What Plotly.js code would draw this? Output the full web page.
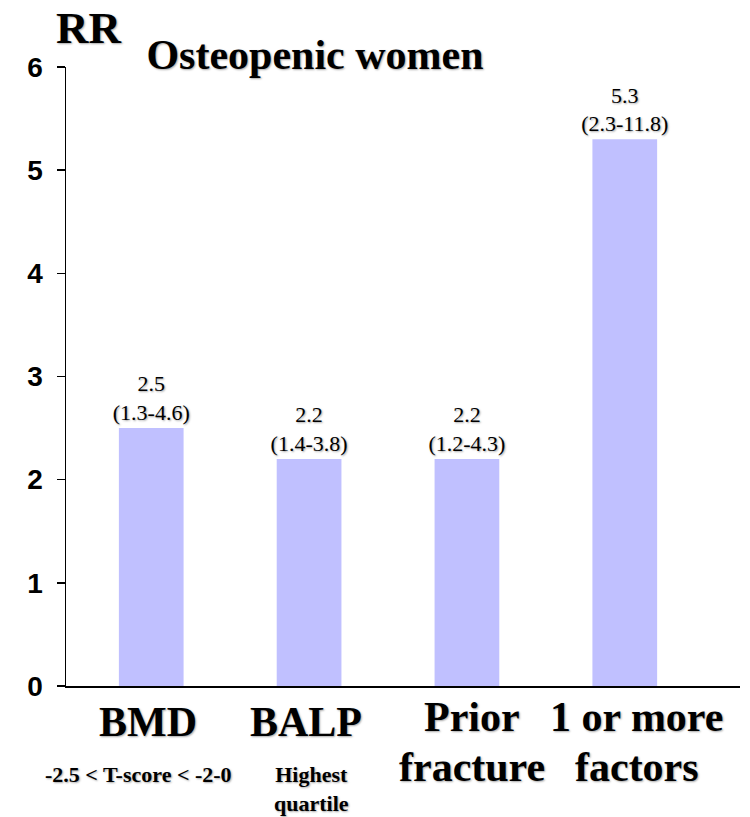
<!DOCTYPE html>
<html>
<head>
<meta charset="utf-8">
<script src="https://cdn.plot.ly/plotly-3.0.1.min.js"></script>
<style>html,body{margin:0;padding:0;background:#fff;}#chart{width:750px;height:817px;}</style>
</head>
<body>
<div id="chart"></div>
<script>
const categories = ["BMD", "BALP", "Prior<br>fracture", "1 or more<br>factors"];
const subLabels = ["-2.5 < T-score < -2-0", "Highest<br>quartile", "", ""];
const rrValues = [2.5, 2.2, 2.2, 5.3];
const ciLabels = ["(1.3-4.6)", "(1.4-3.8)", "(1.2-4.3)", "(2.3-11.8)"];
const yTicks = [0, 1, 2, 3, 4, 5, 6];

const xIdx = categories.map((_, i) => i);
const shadow = "1px 1px 2px rgba(0,0,0,0.35)";
const serif = "'Times New Roman', 'Liberation Serif', 'DejaVu Serif', serif";
const labelXShift = [-3, -3, 5, 12];

const trace = {
  type: "bar",
  x: xIdx,
  y: rrValues,
  width: 0.41,
  marker: {color: "rgb(192,192,255)", line: {width: 0}},
  text: rrValues.map((v, i) => v.toFixed(1) + "<br>" + ciLabels[i]),
  texttemplate: "%{text}",
  textposition: "outside",
  constraintext: "none",
  cliponaxis: false,
  textfont: {family: serif, size: 22, color: "#000", shadow: shadow},
  hoverinfo: "skip"
};

const annotations = [];
categories.forEach((c, i) => {
  const lines = c.split("<br>");
  lines.forEach((ln, k) => {
    annotations.push({
      xref: "x", yref: "paper", x: i, y: 0,
      text: "<b>" + ln + "</b>", showarrow: false,
      xanchor: "center", yanchor: "middle",
      xshift: labelXShift[i],
      yshift: lines.length > 1 ? -31 - 50 * k : -36,
      font: {family: serif, size: 42, color: "#000", shadow: shadow}
    });
  });
  if (subLabels[i]) {
    annotations.push({
      xref: "x", yref: "paper", x: i, y: 0,
      text: "<b>" + subLabels[i].split("<br>").join("</b><br><b>") + "</b>", showarrow: false,
      xanchor: "center", yanchor: "top",
      xshift: i === 0 ? -13 : 2,
      yshift: -75,
      borderpad: 0,
      font: {family: serif, size: 22, color: "#000", shadow: shadow}
    });
  }
});
annotations.push({
  xref: "paper", yref: "paper", x: 0.033, y: 1, yshift: 39,
  xanchor: "center", yanchor: "middle",
  text: "<b>RR</b>", showarrow: false,
  font: {family: serif, size: 45, color: "#000", shadow: shadow}
});

const layout = {
  width: 750, height: 817,
  margin: {l: 66, r: 10, t: 67, b: 131},
  paper_bgcolor: "#fff", plot_bgcolor: "#fff",
  showlegend: false,
  title: {
    text: "<b>Osteopenic women</b>",
    xref: "container", yref: "container",
    x: 315 / 750, xanchor: "center",
    y: 1 - 54 / 817, yanchor: "middle",
    font: {family: serif, size: 42, color: "#000", shadow: shadow}
  },
  xaxis: {
    range: [-0.54, 3.73],
    showticklabels: false, ticks: "",
    showgrid: false, zeroline: false,
    showline: true, linecolor: "#000", linewidth: 1.5
  },
  yaxis: {
    range: [0, 6],
    tickvals: yTicks, ticktext: yTicks.map(v => "<b>" + v + "</b>"),
    ticks: "outside", ticklen: 8, tickwidth: 1.5, tickcolor: "#000",
    ticklabelstandoff: 8,
    tickfont: {family: "'Liberation Sans', Arial, sans-serif", size: 28, color: "#000"},
    showgrid: false, zeroline: false,
    showline: true, linecolor: "#000", linewidth: 1.5
  },
  annotations: annotations
};

Plotly.newPlot("chart", [trace], layout, {staticPlot: true, displayModeBar: false});
</script>
</body>
</html>
